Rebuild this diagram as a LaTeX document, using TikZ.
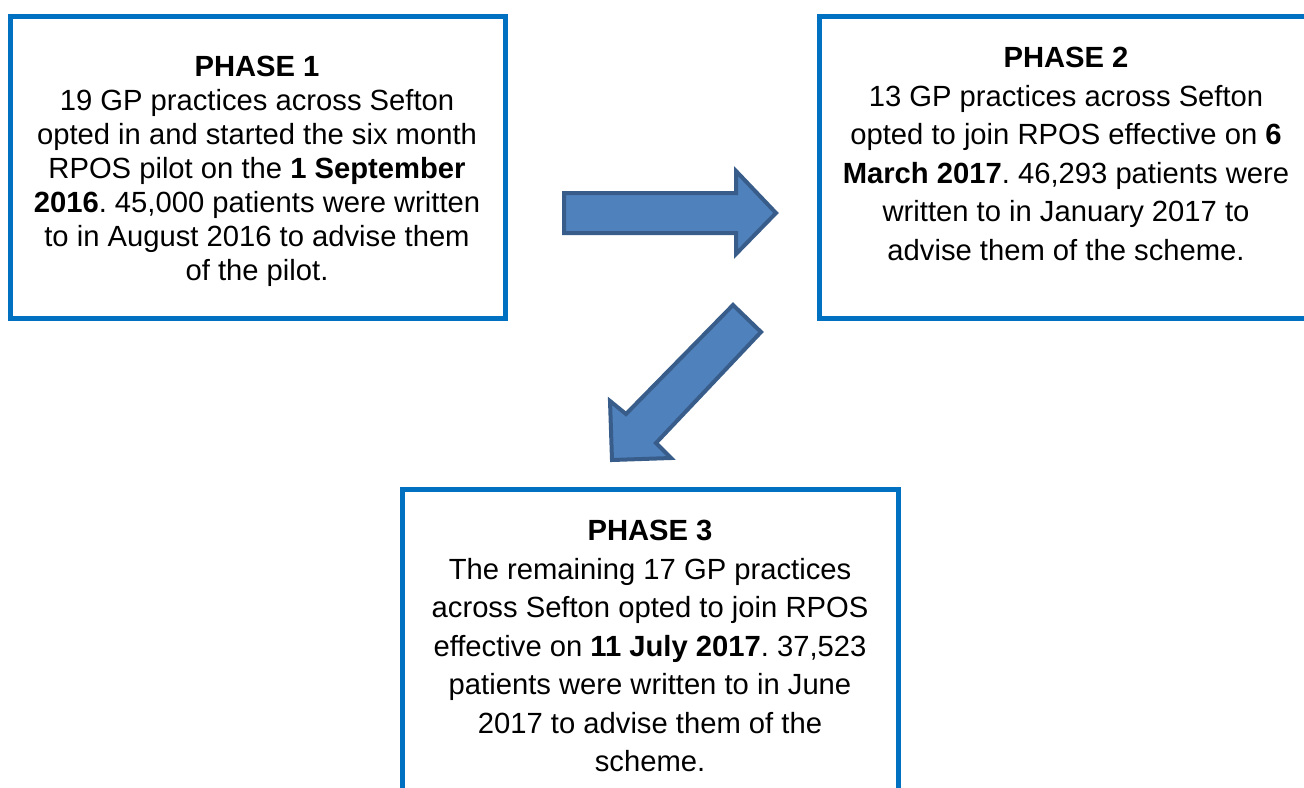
\documentclass[tikz,border=0pt]{standalone}
\usepackage{fontspec}
\setmainfont{Liberation Sans}
\frenchspacing
\definecolor{boxblue}{HTML}{0070C0}
\definecolor{arrfill}{HTML}{4F81BD}
\definecolor{arrline}{HTML}{385D8A}
\begin{document}
\begin{tikzpicture}[x=0.5pt,y=-0.5pt,
  phasebox/.style={draw=boxblue,line width=2.5pt},
  txtA/.style={align=center,inner sep=0pt,anchor=north,font={\fontsize{14.6}{17}\selectfont\frenchspacing}},
  txtB/.style={align=center,inner sep=0pt,anchor=north,font={\fontsize{14.6}{19.25}\selectfont\frenchspacing}},
  blockarrow/.style={fill=arrfill,draw=arrline,line width=2pt,line join=miter}]
\useasboundingbox (0,0) rectangle (1304,787);
\clip (0,0) rectangle (1304,787);
% boxes
\draw[phasebox] (10,16) rectangle (505,318);
\draw[phasebox] (819,16) rectangle (1314,318);
\draw[phasebox] (402,489) rectangle (898,820);
% texts
\node[txtA] (t1) at (257,56) {\textbf{PHASE 1}\\19 GP practices across Sefton\\opted in and started the six month\\RPOS pilot on the \textbf{1 September}\\\textbf{2016}. 45,000 patients were written\\to in August 2016 to advise them\\of the pilot.};
\node[txtB] (t2) at (1066,47) {\textbf{PHASE 2}\\13 GP practices across Sefton\\opted to join RPOS effective on \textbf{6}\\\textbf{March 2017}. 46,293 patients were\\written to in January 2017 to\\advise them of the scheme.};
\node[txtB] (t3) at (650,520) {\textbf{PHASE 3}\\The remaining 17 GP practices\\across Sefton opted to join RPOS\\effective on \textbf{11 July 2017}. 37,523\\patients were written to in June\\2017 to advise them of the\\scheme.};
% arrows
\draw[blockarrow] (564,193) -- (736,193) -- (736,171) -- (776,213) -- (736,254) -- (736,233) -- (564,233) -- cycle;
\draw[blockarrow] (733,305) -- (761,332) -- (656,443) -- (671,458) -- (612,460) -- (610,401) -- (626,414) -- cycle;
\end{tikzpicture}
\end{document}
